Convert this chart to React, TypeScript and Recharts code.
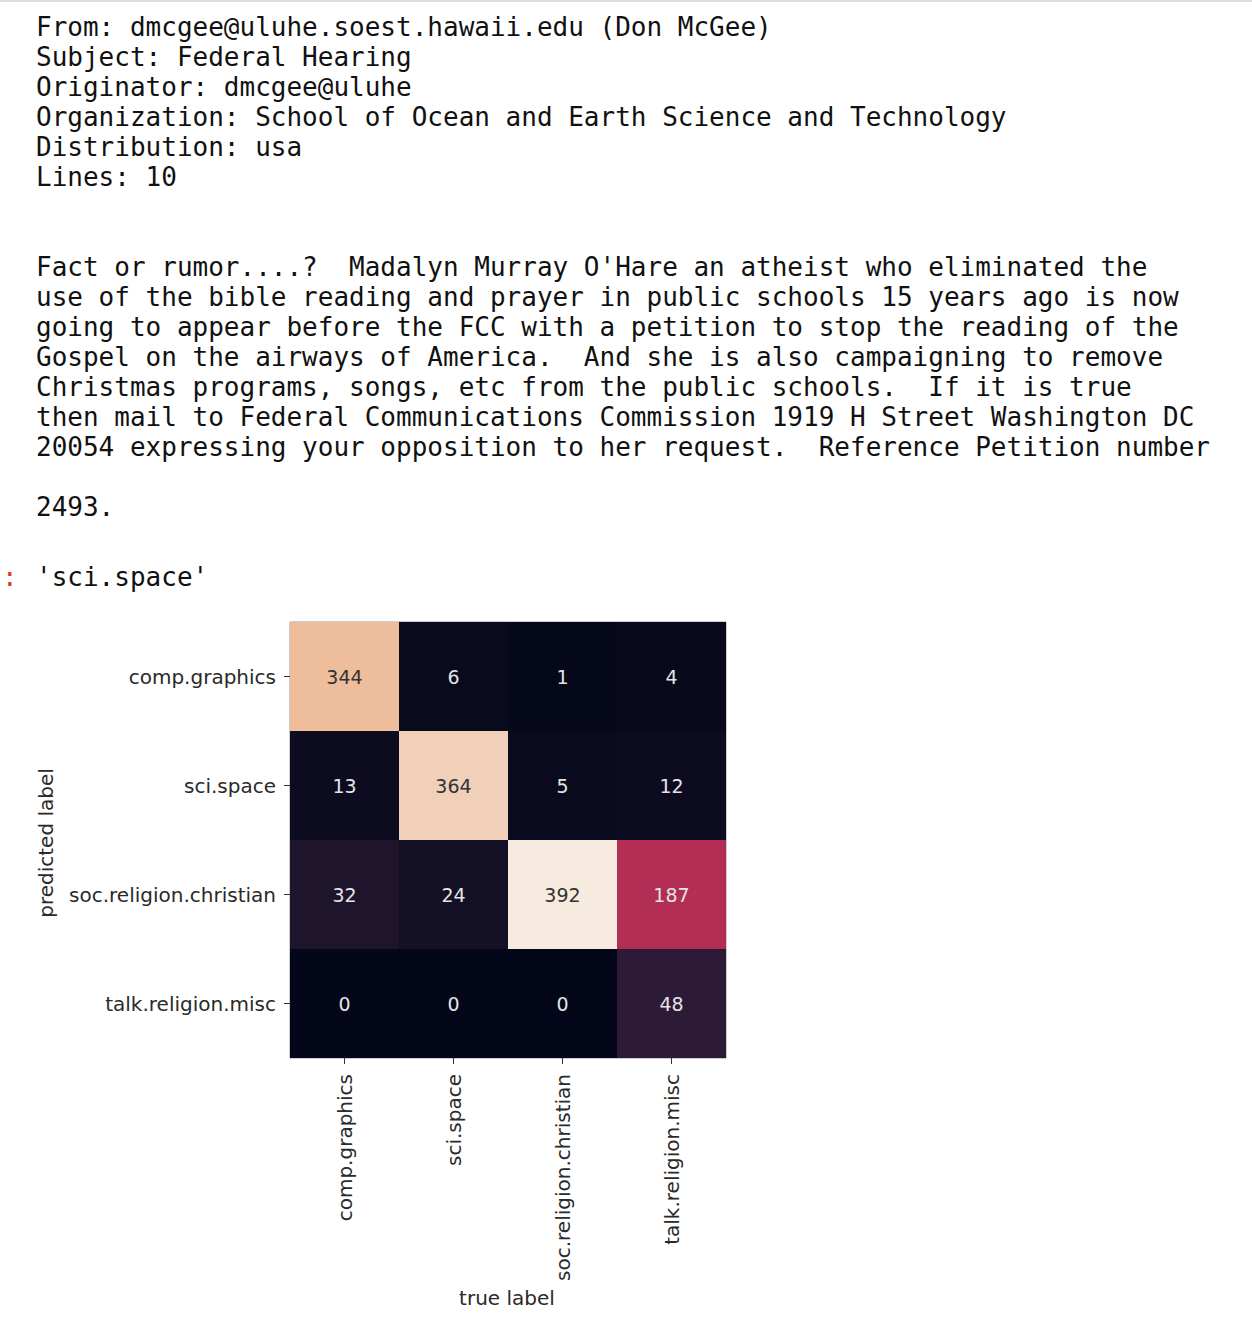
import React from "react";
import { ScatterChart, Scatter, XAxis, YAxis, ReferenceArea } from "recharts";

// class names, same order on both axes
const trueLabels = ["comp.graphics", "sci.space", "soc.religion.christian", "talk.religion.misc"];
const predictedLabels = ["comp.graphics", "sci.space", "soc.religion.christian", "talk.religion.misc"];

// confusion matrix rows (predicted label), columns follow trueLabels
const compGraphicsRow = [344, 6, 1, 4];
const sciSpaceRow = [13, 364, 5, 12];
const socReligionRow = [32, 24, 392, 187];
const talkReligionRow = [0, 0, 0, 48];
const matrixRows = [compGraphicsRow, sciSpaceRow, socReligionRow, talkReligionRow];

const headerLines = [
  "From: dmcgee@uluhe.soest.hawaii.edu (Don McGee)",
  "Subject: Federal Hearing",
  "Originator: dmcgee@uluhe",
  "Organization: School of Ocean and Earth Science and Technology",
  "Distribution: usa",
  "Lines: 10",
  "",
  "",
  "Fact or rumor....?  Madalyn Murray O'Hare an atheist who eliminated the",
  "use of the bible reading and prayer in public schools 15 years ago is now",
  "going to appear before the FCC with a petition to stop the reading of the",
  "Gospel on the airways of America.  And she is also campaigning to remove",
  "Christmas programs, songs, etc from the public schools.  If it is true",
  "then mail to Federal Communications Commission 1919 H Street Washington DC",
  "20054 expressing your opposition to her request.  Reference Petition number",
  "",
  "2493.",
];
const outputText = "'sci.space'";

// rocket-like colormap, tuned to the screenshot
const colorStops: [number, string][] = [
  [0, "#040619"],
  [5, "#090a1d"],
  [13, "#0d0b20"],
  [24, "#141026"],
  [32, "#1e142c"],
  [48, "#2c1a36"],
  [187, "#b22e55"],
  [344, "#eebd9c"],
  [364, "#f0d0b8"],
  [392, "#f7eadf"],
];

function hexToRgb(h: string) {
  return [1, 3, 5].map((i) => parseInt(h.slice(i, i + 2), 16));
}

function cmap(v: number) {
  for (let i = 1; i < colorStops.length; i++) {
    const [v1, c1] = colorStops[i];
    if (v <= v1) {
      const [v0, c0] = colorStops[i - 1];
      const t = (v - v0) / (v1 - v0);
      const a = hexToRgb(c0);
      const b = hexToRgb(c1);
      const rgb = a.map((x, k) => Math.round(x + (b[k] - x) * t));
      return `rgb(${rgb.join(",")})`;
    }
  }
  return colorStops[colorStops.length - 1][1];
}

const cells = matrixRows.flatMap((row, r) =>
  row.map((value, c) => ({ x: c + 0.5, y: r + 0.5, value }))
);
const ticks = trueLabels.map((_, i) => i + 0.5);

const PLOT = 436;
const CELL = PLOT / trueLabels.length;
const FONT = "'DejaVu Sans', sans-serif";

function HeatCell(props: any) {
  const { cx, cy, payload } = props;
  const light = payload.value > 300;
  return (
    <g>
      <rect x={cx - CELL / 2} y={cy - CELL / 2} width={CELL} height={CELL} fill={cmap(payload.value)} />
      <text
        x={cx}
        y={cy}
        textAnchor="middle"
        dominantBaseline="central"
        fontFamily={FONT}
        fontSize={19}
        fill={light ? "#333" : "#e4e4e4"}
      >
        {payload.value}
      </text>
    </g>
  );
}

function XTick(props: any) {
  const { x, y, payload } = props;
  return (
    <g transform={`translate(${x},${y})`}>
      <text transform="rotate(-90)" textAnchor="end" dy="0.35em" fontFamily={FONT} fontSize={20} fill="#2a2a2a">
        {trueLabels[Math.floor(payload.value)]}
      </text>
    </g>
  );
}

function HeatMap() {
  return (
    <ScatterChart width={760} height={724} margin={{ top: 22, right: 34, left: 0, bottom: 0 }}>
      <XAxis
        type="number"
        dataKey="x"
        domain={[0, 4]}
        ticks={ticks}
        interval={0}
        axisLine={false}
        tickSize={6}
        tickMargin={10}
        tickLine={{ stroke: "#333" }}
        tick={<XTick />}
        height={266}
        label={(p: any) => {
          const vb = p.viewBox;
          return (
            <text x={vb.x + vb.width / 2 - 1} y={vb.y + 240} textAnchor="middle" dominantBaseline="central" fontFamily={FONT} fontSize={20} fill="#2a2a2a">
              true label
            </text>
          );
        }}
      />
      <YAxis
        type="number"
        dataKey="y"
        domain={[0, 4]}
        reversed
        ticks={ticks}
        interval={0}
        axisLine={false}
        tickSize={6}
        tickMargin={8}
        tickLine={{ stroke: "#333" }}
        tick={{ fill: "#2a2a2a", fontFamily: FONT, fontSize: 20 }}
        tickFormatter={(v: number) => predictedLabels[Math.floor(v)]}
        width={290}
        label={(p: any) => {
          const vb = p.viewBox;
          const cx = 46;
          const cy = vb.y + vb.height / 2 + 3;
          return (
            <text x={cx} y={cy} transform={`rotate(-90, ${cx}, ${cy})`} textAnchor="middle" dominantBaseline="central" fontFamily={FONT} fontSize={20} fill="#2a2a2a">
              predicted label
            </text>
          );
        }}
      />
      <Scatter data={cells} shape={<HeatCell />} isAnimationActive={false} />
      <ReferenceArea x1={0} x2={4} y1={0} y2={4} fill="none" stroke="#9a9a9a" strokeWidth={1} />
    </ScatterChart>
  );
}

export default function App() {
  return (
    <div style={{ position: "relative", width: 1252, height: 1324, background: "#fff", overflow: "hidden" }}>
      <style>{"body{margin:0}"}</style>
      <div style={{ position: "absolute", left: 0, top: 0, width: 1252, height: 2, background: "#dddddd" }} />
      <pre
        style={{
          position: "absolute",
          left: 36,
          top: 12,
          margin: 0,
          fontFamily: "'DejaVu Sans Mono', monospace",
          fontSize: 26,
          lineHeight: "30px",
          color: "#111",
        }}
      >
        {headerLines.join("\n")}
      </pre>
      <div style={{ position: "absolute", left: 2, top: 562, fontFamily: "'DejaVu Sans Mono', monospace", fontSize: 26, lineHeight: "30px", color: "#d84315" }}>
        :
      </div>
      <pre
        style={{
          position: "absolute",
          left: 36,
          top: 562,
          margin: 0,
          fontFamily: "'DejaVu Sans Mono', monospace",
          fontSize: 26,
          lineHeight: "30px",
          color: "#111",
        }}
      >
        {outputText}
      </pre>
      <div style={{ position: "absolute", left: 0, top: 600 }}>
        <HeatMap />
      </div>
    </div>
  );
}
